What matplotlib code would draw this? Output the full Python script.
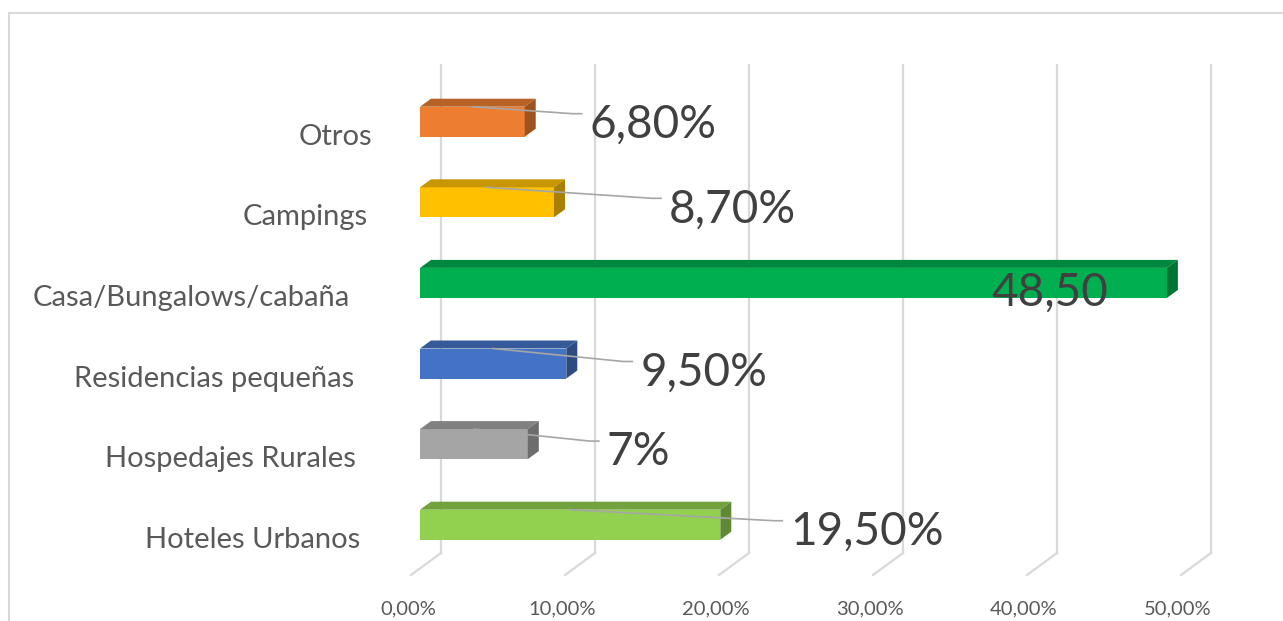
import matplotlib
matplotlib.use("Agg")
import matplotlib.pyplot as plt
from matplotlib.patches import Rectangle, Polygon
from matplotlib.lines import Line2D
from matplotlib.colors import to_rgb

# data (bottom to top)
categories = ["Hoteles Urbanos", "Hospedajes Rurales", "Residencias pequeñas",
              "Casa/Bungalows/cabaña", "Campings", "Otros"]
values = [19.5, 7.0, 9.5, 48.5, 8.7, 6.8]
value_labels = ["19,50%", "7%", "9,50%", "48,50", "8,70%", "6,80%"]
ticks = [0, 10, 20, 30, 40, 50]
tick_labels = ["0,00%", "10,00%", "20,00%", "30,00%", "40,00%", "50,00%"]

colors = ["#92D050", "#A5A5A5", "#4472C4", "#00B050", "#FFC000", "#ED7D31"]
# manual label placement (pixels): offset from bar end, offset below bar centre
label_dx = [70, 79, 74, -175, 115, 65]
label_dy = [7, 8, 9, 10, 7, 3]
cat_dx = [-60, -64, -66, -70, -52, -48]
has_leader = [True, True, True, False, True, True]

W, H = 1283, 621
PX_X = 15.4   # pixels per percent
PX_Y = 80.6   # pixels per category
fig = plt.figure(figsize=(W / 100, H / 100), dpi=100)
ax = fig.add_axes([420 / W, (H - 553) / H, 50 * PX_X / W, (553 - 65) / H])
y_lo = -0.5 + (565 - 553) / PX_Y
y_hi = y_lo + (553 - 65) / PX_Y
ax.set_xlim(0, 50)
ax.set_ylim(y_lo, y_hi)
ax.axis("off")


def dx(px):
    return px / PX_X


def dy(px):
    return px / PX_Y


def shade(c, f):
    r, g, b = to_rgb(c)
    return (r * f, g * f, b * f)


grid_c = "#d9d9d9"
# back wall gridlines + floor diagonals
for t, lab in zip(ticks, tick_labels):
    gx = t + dx(21)
    ax.plot([gx, gx], [y_lo, y_hi], color=grid_c, lw=1.6, clip_on=False, zorder=1)
    ax.plot([gx, gx - dx(30)], [y_lo, y_lo - dy(22)], color=grid_c, lw=1.6,
            clip_on=False, zorder=1)
    ax.text(t - dx(12), y_lo - dy(56), lab, ha="center", va="center",
            fontsize=14.5, color="#595959", family="Lato")

h = 30 / PX_Y
ddx, ddy = dx(11), dy(8)
for i, (cat, v, c) in enumerate(zip(categories, values, colors)):
    top = i + h / 2
    bot = i - h / 2
    ax.add_patch(Rectangle((0, bot), v, h, facecolor=c, edgecolor="none", zorder=3))
    ax.add_patch(Polygon([(0, top), (v, top), (v + ddx, top + ddy), (ddx, top + ddy)],
                         closed=True, facecolor=shade(c, 0.78), edgecolor="none", zorder=3))
    ax.add_patch(Polygon([(v, bot), (v, top), (v + ddx, top + ddy), (v + ddx, bot + ddy)],
                         closed=True, facecolor=shade(c, 0.66), edgecolor="none", zorder=3))

    lx = v + dx(label_dx[i])
    ly = i - dy(label_dy[i])
    if has_leader[i]:
        ax.plot([v / 2, lx - dx(17), lx - dx(8)],
                [top, ly + dy(11), ly + dy(11)],
                color="#a6a6a6", lw=1.2, zorder=4, clip_on=False)
    ax.text(lx, ly, value_labels[i], ha="left", va="center", fontsize=33,
            color="#404040", family="Lato", zorder=5)

    ax.text(dx(cat_dx[i]), i - dy(15), cat, ha="right", va="center",
            fontsize=21, color="#595959", family="Lato")

# chart frame (top and left edges visible)
fig.add_artist(Line2D([9 / W, 1.0], [1 - 13 / H, 1 - 13 / H], color=grid_c, lw=1.5))
fig.add_artist(Line2D([9 / W, 9 / W], [0, 1 - 13 / H], color=grid_c, lw=1.5))

fig.savefig("out.png", dpi=100)
